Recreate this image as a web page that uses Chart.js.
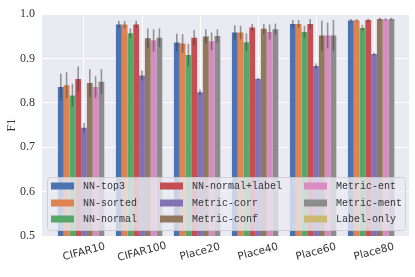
<!DOCTYPE html>
<html>
<head>
<meta charset="utf-8">
<script src="https://cdn.jsdelivr.net/npm/chart.js@4"></script>
<style>
  html, body { margin: 0; padding: 0; background: #fff; }
  #wrap { width: 415px; height: 277px; }
</style>
</head>
<body>
<div id="wrap"><canvas id="f1Chart"></canvas></div>
<script>
"use strict";

// datasets on the x axis
const categories = ["CIFAR10", "CIFAR100", "Place20", "Place40", "Place60", "Place80"];
const yTicks = [0.5, 0.6, 0.7, 0.8, 0.9, 1.0];

// mean F1 per attack
const nnTop3 = [0.836, 0.977, 0.936, 0.959, 0.978, 0.986];
const nnSorted = [0.840, 0.977, 0.934, 0.959, 0.978, 0.986];
const nnNormal = [0.817, 0.957, 0.908, 0.937, 0.960, 0.969];
const nnNormalLabel = [0.854, 0.977, 0.947, 0.970, 0.978, 0.987];
const metricCorr = [0.744, 0.862, 0.824, 0.854, 0.883, 0.910];
const metricConf = [0.845, 0.946, 0.950, 0.967, 0.952, 0.989];
const metricEnt = [0.836, 0.941, 0.939, 0.960, 0.952, 0.988];
const metricMent = [0.848, 0.947, 0.951, 0.966, 0.952, 0.989];
const labelOnly = [null, null, null, null, null, null];

// error bar half widths
const nnTop3Err = [0.030, 0.008, 0.020, 0.016, 0.009, 0.003];
const nnSortedErr = [0.029, 0.008, 0.021, 0.015, 0.009, 0.003];
const nnNormalErr = [0.026, 0.011, 0.025, 0.020, 0.014, 0.007];
const nnNormalLabelErr = [0.028, 0.008, 0.017, 0.008, 0.011, 0.003];
const metricCorrErr = [0.011, 0.011, 0.006, 0.003, 0.006, 0.003];
const metricConfErr = [0.031, 0.022, 0.016, 0.011, 0.033, 0.003];
const metricEntErr = [0.024, 0.025, 0.020, 0.017, 0.029, 0.003];
const metricMentErr = [0.028, 0.021, 0.015, 0.013, 0.035, 0.003];
const labelOnlyErr = [null, null, null, null, null, null];

const series = [
    { name: "NN-top3", data: nnTop3, err: nnTop3Err, color: "#4C72B0" },
    { name: "NN-sorted", data: nnSorted, err: nnSortedErr, color: "#DD8452" },
    { name: "NN-normal", data: nnNormal, err: nnNormalErr, color: "#55A868" },
    { name: "NN-normal+label", data: nnNormalLabel, err: nnNormalLabelErr, color: "#C44E52" },
    { name: "Metric-corr", data: metricCorr, err: metricCorrErr, color: "#8172B3" },
    { name: "Metric-conf", data: metricConf, err: metricConfErr, color: "#937860" },
    { name: "Metric-ent", data: metricEnt, err: metricEntErr, color: "#DA8BC3" },
    { name: "Metric-ment", data: metricMent, err: metricMentErr, color: "#8C8C8C" },
    { name: "Label-only", data: labelOnly, err: labelOnlyErr, color: "#CCB974" },
];

const bgPlugin = {
    id: "bgPlugin",
    beforeDraw(chart) {
        const { ctx, chartArea: a } = chart;
        ctx.save();
        ctx.fillStyle = "#EAEAF2";
        ctx.fillRect(a.left, a.top, a.right - a.left, a.bottom - a.top);
        ctx.restore();
    },
};

const errorBars = {
    id: "errorBars",
    afterDatasetsDraw(chart) {
        const ctx = chart.ctx;
        const y = chart.scales.y;
        ctx.save();
        ctx.strokeStyle = "rgba(60,60,60,0.5)";
        ctx.lineWidth = 1.6;
        series.forEach((s, d) => {
            const meta = chart.getDatasetMeta(d);
            s.data.forEach((v, i) => {
                if (v === null || s.err[i] === null) return;
                const bar = meta.data[i];
                ctx.beginPath();
                ctx.moveTo(bar.x, y.getPixelForValue(v + s.err[i]));
                ctx.lineTo(bar.x, y.getPixelForValue(v - s.err[i]));
                ctx.stroke();
            });
        });
        ctx.restore();
    },
};

const boxLegend = {
    id: "boxLegend",
    afterDraw(chart) {
        const ctx = chart.ctx;
        const a = chart.chartArea;
        const left = a.left + 5, top = a.bottom - 59, w = a.right - a.left - 9, h = 53;
        ctx.save();
        ctx.fillStyle = "rgba(234,234,242,0.8)";
        ctx.strokeStyle = "rgba(204,204,204,0.8)";
        ctx.lineWidth = 1;
        ctx.beginPath();
        ctx.roundRect(left + 0.5, top + 0.5, w, h, 3);
        ctx.fill();
        ctx.stroke();

        const colX = [left + 4, left + 113, left + 257];
        const rowY = [top + 9, top + 26, top + 42];
        ctx.font = "10px 'Liberation Mono'";
        ctx.textBaseline = "middle";
        ctx.textAlign = "left";
        series.forEach((s, k) => {
            const cx = colX[Math.floor(k / 3)];
            const cy = rowY[k % 3];
            ctx.fillStyle = s.color;
            ctx.fillRect(cx, cy - 3.5, 23, 7);
            ctx.fillStyle = "#333";
            ctx.fillText(s.name, cx + 32, cy + 0.5);
        });
        ctx.restore();
    },
};

const xLabels = {
    id: "xLabels",
    afterDraw(chart) {
        const ctx = chart.ctx;
        const x = chart.scales.x;
        const base = chart.chartArea.bottom + 16;
        ctx.save();
        ctx.font = "10.5px 'DejaVu Sans'";
        ctx.fillStyle = "#333";
        ctx.textAlign = "center";
        ctx.textBaseline = "middle";
        categories.forEach((c, i) => {
            ctx.save();
            ctx.translate(x.getPixelForValue(i), base);
            ctx.rotate(-15 * Math.PI / 180);
            ctx.fillText(c, 0, 0);
            ctx.restore();
        });
        ctx.restore();
    },
};

const ctx = document.getElementById("f1Chart").getContext("2d");
const f1Chart = new Chart(ctx, {
    type: "bar",
    data: {
        datasets: series.map((s) => ({
            label: s.name,
            data: s.data.map((v, i) => ({ x: i, y: v })),
            backgroundColor: s.color,
            borderWidth: 0,
            categoryPercentage: 0.9,
            barPercentage: 1.0,
        })),
    },
    options: {
        responsive: true,
        maintainAspectRatio: false,
        animation: false,
        layout: { padding: { top: 14, right: 6, left: 0, bottom: 0 } },
        plugins: {
            legend: { display: false },
            tooltip: { enabled: false },
        },
        scales: {
            x: {
                type: "linear",
                min: -0.724,
                max: 5.603,
                offset: false,
                grid: { color: "#fff", lineWidth: 1, offset: false, drawTicks: false },
                border: { display: false },
                ticks: { display: false },
                afterBuildTicks(scale) {
                    scale.ticks = categories.map((c, i) => ({ value: i }));
                },
                afterFit(scale) {
                    scale.height = 41;
                },
            },
            y: {
                min: 0.5,
                max: 1.0,
                grid: { color: "#fff", lineWidth: 1, drawTicks: false },
                border: { display: false },
                afterBuildTicks(scale) {
                    scale.ticks = yTicks.map((v) => ({ value: v }));
                },
                ticks: {
                    padding: 7,
                    color: "#333",
                    font: { family: "'Liberation Serif'", size: 12 },
                    callback: (v) => v.toFixed(1),
                },
                title: {
                    display: true,
                    text: "F1",
                    color: "#333",
                    font: { family: "'Liberation Serif'", size: 12 },
                    padding: { top: 5, bottom: 0 },
                },
                afterFit(scale) {
                    scale.width = 42;
                },
            },
        },
    },
    plugins: [bgPlugin, errorBars, boxLegend, xLabels],
});
</script>
</body>
</html>
